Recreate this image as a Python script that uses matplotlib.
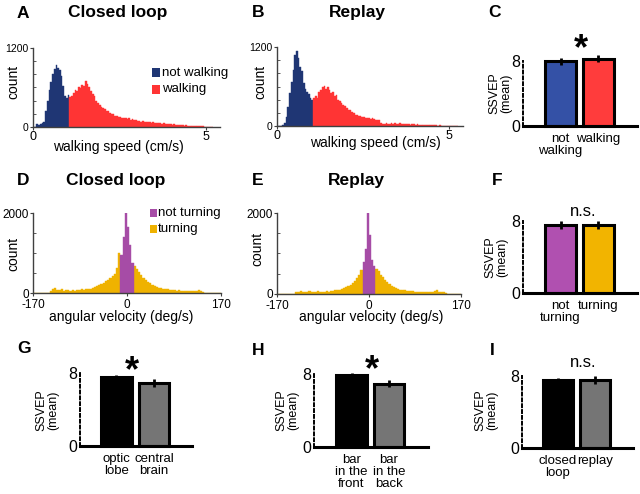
import matplotlib.pyplot as plt
from matplotlib.patches import Rectangle
import numpy as np

plt.rcParams['font.family'] = ['Liberation Sans', 'DejaVu Sans']

W, H = 640, 494

# walking speed histograms: counts per 0.05 cm/s bin, first bin starts at 0
speed_bin = 0.05
speed_split = 1.05  # below: not walking, above: walking
closed_not_walking = [0, 0, 50, 30, 40, 60, 80, 250, 400, 560, 690, 800, 880, 940, 900, 860, 780, 620, 470, 440, 480]
closed_walking = [450, 470, 520, 560, 540, 600, 590, 640, 620, 700, 650, 600, 540, 500, 470, 400, 370, 340, 310, 290,
                  270, 250, 240, 210, 200, 190, 170, 160, 150, 150, 140, 130, 140, 120, 130, 110, 120, 100, 100, 90,
                  95, 80, 85, 75, 80, 70, 75, 65, 70, 60, 65, 55, 60, 50, 55, 45, 50, 40, 45, 35,
                  40, 30, 35, 30, 25, 30, 20, 25, 20, 15, 20, 15, 12, 15, 10, 12, 8, 10, 6, 5,
                  4, 3, 2]
replay_not_walking = [0, 0, 0, 20, 40, 140, 290, 500, 670, 850, 1080, 1140, 1030, 900, 830, 650, 560, 520, 480, 430, 400]
replay_walking = [420, 450, 430, 520, 540, 600, 610, 560, 600, 540, 500, 510, 460, 470, 400, 380, 350, 320, 300, 280,
                  250, 240, 220, 200, 170, 160, 150, 145, 140, 130, 120, 125, 115, 110, 115, 100, 95, 90, 85, 40,
                  35, 30, 40, 30, 35, 45, 30, 40, 35, 30, 40, 30, 25, 35, 25, 30, 20, 25, 30, 20,
                  25, 18, 20, 15, 20, 12, 15, 10, 12, 10, 8, 10, 6, 8, 5, 6, 4, 5, 3, 3,
                  2, 2, 1, 1]

# angular velocity histograms: counts per 4 deg/s bin, first bin starts at -172
ang_bin = 4
ang_start = -172
closed_turn_left = [0, 0, 0, 0, 0, 0, 0, 0, 40, 90, 120, 80, 70, 90, 60, 70, 80, 60, 70, 60,
                    80, 70, 90, 80, 100, 90, 110, 130, 140, 170, 200, 230, 260, 300, 330, 380, 420, 480, 620, 1000]
closed_not_turning = [950, 1400, 2000, 1650, 1200, 750]
closed_turn_right = [680, 600, 520, 450, 380, 320, 280, 240, 200, 180, 150, 130, 120, 110, 100, 90, 80, 70, 80, 60,
                     70, 60, 60, 50, 60, 50, 60, 50, 60, 70, 60, 30, 0, 0, 0, 0, 0, 0, 0, 0]
replay_turn_left = [0, 0, 0, 0, 0, 0, 0, 0, 0, 50, 60, 70, 60, 50, 60, 70, 60, 50, 60, 70,
                    60, 50, 60, 70, 60, 70, 80, 90, 100, 110, 130, 150, 170, 200, 230, 270, 320, 400, 470, 600]
replay_not_turning = [800, 1100, 2000, 1450, 850, 700]
replay_turn_right = [620, 560, 480, 420, 340, 300, 250, 200, 170, 140, 120, 110, 100, 90, 80, 70, 80, 70, 60, 60,
                     50, 60, 50, 60, 50, 60, 50, 70, 110, 60, 50, 40, 30, 0, 0, 0, 0, 0, 0, 0]

# SSVEP bar panels
walk_labels = ['not\nwalking', 'walking']
walk_means = [7.95, 8.3]
walk_errs = [0.4, 0.4]
turn_labels = ['not\nturning', 'turning']
turn_means = [7.55, 7.55]
turn_errs = [0.4, 0.4]
region_labels = ['optic\nlobe', 'central\nbrain']
region_means = [7.6, 6.9]
region_errs = [0.2, 0.45]
bar_pos_labels = ['bar\nin the\nfront', 'bar\nin the\nback']
bar_pos_means = [7.87, 6.95]
bar_pos_errs = [0.2, 0.4]
cond_labels = ['closed\nloop', 'replay']
cond_means = [7.55, 7.6]
cond_errs = [0.2, 0.45]

BLUE_H, RED_H = '#1f3674', '#ff3434'
PURPLE_H, ORANGE_H = '#a64ca6', '#efb200'
BLUE_B, RED_B = '#3451a6', '#ff3c3c'
PURPLE_B, ORANGE_B = '#b050b0', '#f2b400'
GRAY_B = '#757575'
AXC = '#404040'

fig = plt.figure(figsize=(6.4, 4.94), dpi=100)


def add_ax(x0, x1, ytop, ybot):
    ax = fig.add_axes([x0 / W, 1 - ybot / H, (x1 - x0) / W, (ybot - ytop) / H])
    ax.patch.set_alpha(0)
    for s in ['top', 'right']:
        ax.spines[s].set_visible(False)
    return ax


def ftext(x, y, s, **kw):
    fig.text(x / W, 1 - y / H, s, **kw)


def square(x, y, w, h, color):
    fig.add_artist(Rectangle((x / W, 1 - (y + h) / H), w / W, h / H,
                             transform=fig.transFigure, color=color, lw=0))


def hist_style(ax, ymax, minor_step):
    for s in ['left', 'bottom']:
        ax.spines[s].set_color(AXC)
        ax.spines[s].set_linewidth(1.0)
    ax.set_ylim(0, ymax)
    ax.set_yticks([0, ymax])
    ax.set_yticks(np.arange(minor_step, ymax, minor_step), minor=True)
    ax.tick_params(axis='y', which='major', length=2, labelsize=7.5, pad=1, color=AXC)
    ax.tick_params(axis='y', which='minor', length=2, direction='in', color=AXC)
    ax.tick_params(axis='x', length=2, labelsize=9, pad=1, color=AXC)


def speed_hist(box, not_walk, walk):
    ax = add_ax(*box)
    x_nw = np.arange(len(not_walk)) * speed_bin
    x_w = speed_split + np.arange(len(walk)) * speed_bin
    ax.bar(x_nw, not_walk, width=speed_bin, align='edge', color=BLUE_H, ec=BLUE_H, lw=0.3)
    ax.bar(x_w, walk, width=speed_bin, align='edge', color=RED_H, ec=RED_H, lw=0.3)
    ax.set_xlim(0, 5.4)
    ax.set_xticks([0, 5])
    hist_style(ax, 1200, 200)
    return ax


def ang_hist(box, left, mid, right):
    ax = add_ax(*box)
    x_l = ang_start + np.arange(len(left)) * ang_bin
    x_m = ang_start + (len(left) + np.arange(len(mid))) * ang_bin
    x_r = ang_start + (len(left) + len(mid) + np.arange(len(right))) * ang_bin
    ax.bar(x_l, left, width=ang_bin, align='edge', color=ORANGE_H, ec=ORANGE_H, lw=0.3)
    ax.bar(x_r, right, width=ang_bin, align='edge', color=ORANGE_H, ec=ORANGE_H, lw=0.3)
    ax.bar(x_m, mid, width=ang_bin, align='edge', color=PURPLE_H, ec=PURPLE_H, lw=0.3)
    ax.set_xlim(-170, 170)
    ax.set_xticks([-170, 0, 170], ['-170', '0', '170'])
    hist_style(ax, 2000, 500)
    ax.tick_params(axis='x', labelsize=8.5, pad=2)
    ax.tick_params(axis='y', which='major', labelsize=8.5)
    return ax


def bar_panel(box, xlim, labels, means, errs, colors):
    ax = add_ax(*box)
    x = np.arange(1, len(means) + 1)
    ax.bar(x, means, width=0.82, color=colors, edgecolor='black', linewidth=2.2,
           clip_on=False, zorder=2)
    ax.errorbar(x, means, yerr=errs, fmt='none', ecolor='black', elinewidth=2,
                capsize=0, zorder=3, clip_on=False)
    ax.set_xlim(*xlim)
    ax.set_ylim(0, 8)
    ax.spines['left'].set_linestyle((0, (1.5, 1.5)))
    ax.spines['left'].set_linewidth(1.4)
    ax.spines['bottom'].set_linewidth(2.2)
    ax.set_xticks(x, labels, fontsize=9.5, linespacing=1.0)
    ax.set_yticks([0, 8])
    ax.tick_params(axis='x', length=0, pad=5)
    ax.tick_params(axis='y', length=0, pad=2, labelsize=11.5)
    return ax


# row 1
speed_hist((33, 220, 48, 127), closed_not_walking, closed_walking)
speed_hist((277, 463, 47, 126), replay_not_walking, replay_walking)
bar_panel((523, 637, 61, 126), (0, 3.03), walk_labels, walk_means, walk_errs, [BLUE_B, RED_B])

# row 2
ang_hist((33, 221, 213, 293), closed_turn_left, closed_not_turning, closed_turn_right)
ang_hist((277, 461, 213, 294), replay_turn_left, replay_not_turning, replay_turn_right)
bar_panel((523, 637, 221, 293), (0, 3.03), turn_labels, turn_means, turn_errs, [PURPLE_B, ORANGE_B])

# row 3
bar_panel((80, 192, 373, 446), (0.03, 3.01), region_labels, region_means, region_errs, ['black', GRAY_B])
bar_panel((314, 428, 374, 447), (0, 3.04), bar_pos_labels, bar_pos_means, bar_pos_errs, ['black', GRAY_B])
bar_panel((522, 633, 376, 448), (0.03, 3.03), cond_labels, cond_means, cond_errs, ['black', GRAY_B])

# panel letters and titles
bold = dict(fontsize=12.5, fontweight='bold', va='baseline')
for letter, x, y in [('A', 17, 18), ('B', 252, 17), ('C', 488, 17),
                     ('D', 17, 185), ('E', 252, 185), ('F', 492, 185),
                     ('G', 17, 353), ('H', 252, 355), ('I', 490, 355)]:
    ftext(x, y, letter, ha='left', **bold)
ftext(118, 17, 'Closed loop', ha='center', **bold)
ftext(357, 17, 'Replay', ha='center', **bold)
ftext(116, 185, 'Closed loop', ha='center', **bold)
ftext(356, 185, 'Replay', ha='center', **bold)

# axis labels of histograms
lab = dict(fontsize=10, ha='center', va='center')
ftext(13, 82, 'count', rotation=90, **lab)
ftext(260, 82, 'count', rotation=90, **lab)
ftext(13, 254, 'count', rotation=90, **lab)
ftext(257, 249, 'count', rotation=90, **lab)
ftext(118, 147, 'walking speed (cm/s)', **lab)
ftext(375, 143, 'walking speed (cm/s)', **lab)
ftext(121, 317, 'angular velocity (deg/s)', **lab)
ftext(371, 317, 'angular velocity (deg/s)', **lab)

# SSVEP y labels
ss = dict(fontsize=9, ha='center', va='center', rotation=90, linespacing=0.95)
ftext(500, 93, 'SSVEP\n(mean)', **ss)
ftext(496, 257, 'SSVEP\n(mean)', **ss)
ftext(47, 410, 'SSVEP\n(mean)', **ss)
ftext(287, 410, 'SSVEP\n(mean)', **ss)
ftext(486, 410, 'SSVEP\n(mean)', **ss)

# legends
square(152, 68, 8, 9, BLUE_H)
square(152, 85, 8, 9, RED_H)
ftext(162, 73, 'not walking', fontsize=9.5, ha='left', va='center')
ftext(162, 89, 'walking', fontsize=9.5, ha='left', va='center')
square(150, 209, 7, 8, PURPLE_H)
square(150, 225, 7, 8, ORANGE_H)
ftext(158, 213, 'not turning', fontsize=9.5, ha='left', va='center')
ftext(158, 229, 'turning', fontsize=9.5, ha='left', va='center')

# significance marks
star = dict(fontsize=26, fontweight='bold', ha='center', va='baseline')
ftext(581, 59, '*', **star)
ftext(132, 381, '*', **star)
ftext(372, 380, '*', **star)
ftext(583, 216, 'n.s.', fontsize=12, ha='center', va='baseline')
ftext(583, 367, 'n.s.', fontsize=12, ha='center', va='baseline')

fig.savefig('out.png', dpi=100)
